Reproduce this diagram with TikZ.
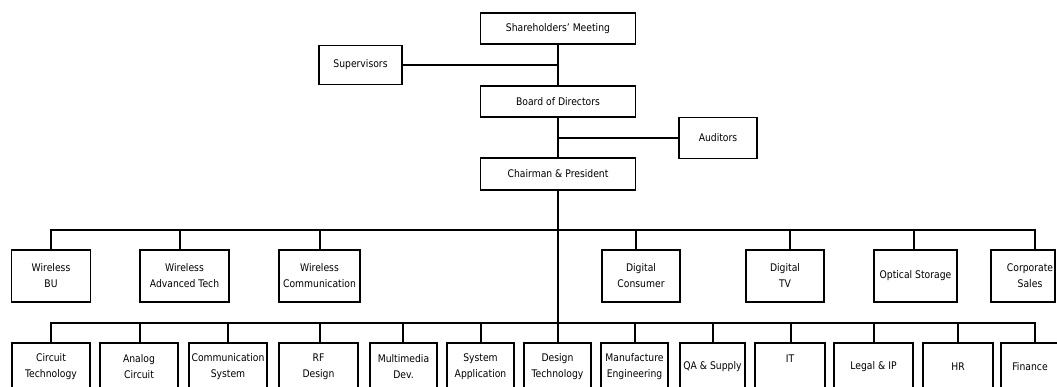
\documentclass[tikz,border=0pt]{standalone}
\usepackage{fontspec}
\setmainfont{DejaVu Sans}[FakeStretch=0.88]
\newcommand\orgfont{\fontsize{10.5}{16}\selectfont}
\begin{document}
\begin{tikzpicture}[x=1pt,y=-1pt,
  box/.style={draw, line width=1.7pt, inner sep=0pt, align=center, font=\orgfont},
  ln/.style={line width=1.7pt},
  txt/.style={inner sep=0pt, align=center, font=\orgfont}]
\useasboundingbox (0,0) rectangle (1057,387);
\clip (0,0) rectangle (1057,387);
\fill[white] (0,0) rectangle (1057,387);

% top
\node[box, minimum width=155pt, minimum height=31pt] (sh)  at (558,28.5)  {Shareholders’ Meeting};
\node[box, minimum width=83pt,  minimum height=39pt] (sup) at (360.5,65) {Supervisors};
\node[box, minimum width=155pt, minimum height=31pt] (bod) at (558,101.5) {Board of Directors};
\node[box, minimum width=78pt,  minimum height=41pt] (aud) at (718,138)  {Auditors};
\node[box, minimum width=155pt, minimum height=32pt] (ch)  at (558,174)   {Chairman \& President};

% middle row
\node[box, minimum width=79pt, minimum height=52pt] (m1) at (51,276)    {Wireless\\BU};
\node[box, minimum width=89pt, minimum height=52pt] (m2) at (184.5,276) {Wireless\\Advanced Tech};
\node[box, minimum width=81pt, minimum height=52pt] (m3) at (319.5,276) {Wireless\\Communication};
\node[box, minimum width=78pt, minimum height=52pt] (m4) at (641,276)   {Digital\\Consumer};
\node[box, minimum width=78pt, minimum height=52pt] (m5) at (785,276)   {Digital\\TV};
\node[box, minimum width=83pt, minimum height=52pt] (m6) at (915.5,276) {Optical Storage};
\node[box, minimum width=64pt, minimum height=52pt] (m7) at (1023,276)  {};
\node[txt] (m7t) at (1030,276) {Corporate\\Sales};

% bottom row
\node[box, minimum width=78pt, minimum height=48pt] (b1)  at (51,367)    {Circuit\\Technology};
\node[box, minimum width=78pt, minimum height=48pt] (b2)  at (139,367)   {Analog\\Circuit};
\node[box, minimum width=78pt, minimum height=48pt] (b3)  at (228,367)   {Communication\\System};
\node[box, minimum width=79pt, minimum height=48pt] (b4)  at (318.5,367) {RF\\Design};
\node[box, minimum width=67pt, minimum height=48pt] (b5)  at (403.5,367) {Multimedia\\Dev.};
\node[box, minimum width=67pt, minimum height=48pt] (b6)  at (480.5,367) {System\\Application};
\node[box, minimum width=67pt, minimum height=48pt] (b7)  at (557.5,367) {Design\\Technology};
\node[box, minimum width=67pt, minimum height=48pt] (b8)  at (634.5,367) {Manufacture\\Engineering};
\node[box, minimum width=65pt, minimum height=48pt] (b9)  at (712.5,367) {QA \& Supply};
\node[box, minimum width=70pt, minimum height=48pt] (b10) at (790,367)   {IT\\\mbox{}};
\node[box, minimum width=79pt, minimum height=48pt] (b11) at (873.5,367) {Legal \& IP};
\node[box, minimum width=70pt, minimum height=48pt] (b12) at (958,367)   {HR};
\node[box, minimum width=58pt, minimum height=48pt] (b13) at (1030,367)  {Finance};

% junction points
\coordinate (mj1) at (50.7,230);
\coordinate (mj2) at (180,230);
\coordinate (mj3) at (320,230);
\coordinate (mj4) at (636,230);
\coordinate (mj5) at (790,230);
\coordinate (mj6) at (914,230);
\coordinate (mj7) at (1035,230);
\coordinate (bj1) at (50.7,323);
\coordinate (bj2) at (140,323);
\coordinate (bj3) at (228,323);
\coordinate (bj4) at (320,323);
\coordinate (bj5) at (403,323);
\coordinate (bj6) at (481,323);
\coordinate (bj8) at (635,323);
\coordinate (bj9) at (713,323);
\coordinate (bj10) at (791,323);
\coordinate (bj11) at (874,323);
\coordinate (bj12) at (958,323);
\coordinate (bj13) at (1035,323);

% spine
\draw[ln] (sh.south) -- (bod.north);
\draw[ln] (bod.south) -- (ch.north);
\draw[ln] (ch.south) -- (b7.north -| ch.south);
\draw[ln] (sup.east) -- (sup.east -| sh.south);
\draw[ln] (aud.west -| bod.south) -- (aud.west);

% middle bus
\draw[ln] (mj1 |- m1.north) -- (mj1) -- (mj7) -- (mj7 |- m7.north);
\foreach \n in {2,...,6} \draw[ln] (mj\n) -- (mj\n |- m\n.north);

% bottom bus
\draw[ln] (bj1 |- b1.north) -- (bj1) -- (bj13) -- (bj13 |- b13.north);
\foreach \n in {2,3,4,5,6,8,9,10,11,12} \draw[ln] (bj\n) -- (bj\n |- b\n.north);
\end{tikzpicture}
\end{document}
